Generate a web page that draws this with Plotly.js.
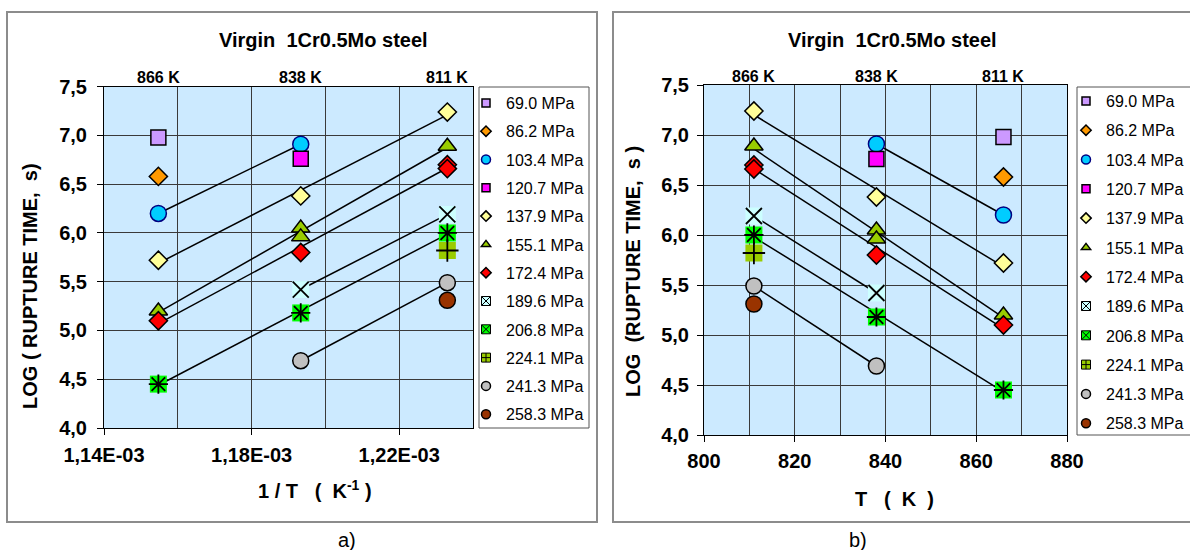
<!DOCTYPE html>
<html>
<head>
<meta charset="utf-8">
<script src="https://cdn.plot.ly/plotly-3.0.1.min.js"></script>
<style>
html,body{margin:0;padding:0;background:#ffffff;}
#chart{width:1190px;height:550px;}
</style>
</head>
<body>
<div id="chart"></div>
<script>
// ---------------- DATA ----------------
const stressLabels = ['69.0 MPa','86.2 MPa','103.4 MPa','120.7 MPa','137.9 MPa','155.1 MPa',
                      '172.4 MPa','189.6 MPa','206.8 MPa','224.1 MPa','241.3 MPa','258.3 MPa'];
const temps = [866, 838, 811];
const tempLabels = ['866 K', '838 K', '811 K'];

// test temperature (K) and log(rupture time, s) for every stress level
const T_69  = [866];                 const L_69  = [6.98];
const T_86  = [866];                 const L_86  = [6.58];
const T_103 = [866, 838];            const L_103 = [6.20, 6.91];
const T_120 = [838];                 const L_120 = [6.76];
const T_137 = [866, 838, 811];       const L_137 = [5.72, 6.38, 7.24];
const T_155 = [866, 838, 838, 811];  const L_155 = [5.20, 6.05, 5.96, 6.89];
const T_172 = [866, 838, 811, 811];  const L_172 = [5.10, 5.80, 6.70, 6.66];
const T_189 = [838, 811];            const L_189 = [5.42, 6.19];
const T_206 = [866, 838, 811];       const L_206 = [4.45, 5.18, 6.00];
const T_224 = [811];                 const L_224 = [5.82];
const T_241 = [838, 811];            const L_241 = [4.69, 5.49];
const T_258 = [811];                 const L_258 = [5.31];

const xTickValsA = [0.00114, 0.00118, 0.00122];
const xTickTextA = ['1,14E-03', '1,18E-03', '1,22E-03'];

// ---------------- STYLES ----------------
const seriesT = [T_69, T_86, T_103, T_120, T_137, T_155, T_172, T_189, T_206, T_224, T_241, T_258];
const seriesL = [L_69, L_86, L_103, L_120, L_137, L_155, L_172, L_189, L_206, L_224, L_241, L_258];

const styles = [
  {kind:'plain', symbol:'square',      color:'#cc99ff', line:'#000000', size:15},
  {kind:'plain', symbol:'diamond',     color:'#ff9900', line:'#000000', size:14},
  {kind:'plain', symbol:'circle',      color:'#00ccff', line:'#000080', size:16},
  {kind:'plain', symbol:'square',      color:'#ff00ff', line:'#000000', size:15},
  {kind:'plain', symbol:'diamond',     color:'#ffff99', line:'#000000', size:14},
  {kind:'plain', symbol:'triangle-up', color:'#99cc00', line:'#000000', size:16},
  {kind:'plain', symbol:'diamond',     color:'#ff0000', line:'#000000', size:14},
  {kind:'bg', symbol:'x-thin-open',     bg:'#ccffff', legendSymbol:'square-x',     size:16},
  {kind:'bg', symbol:'asterisk-open',   bg:'#00ff00', legendSymbol:'square-x',     size:16},
  {kind:'bg', symbol:'cross-thin-open', bg:'#99cc00', legendSymbol:'square-cross', size:16},
  {kind:'plain', symbol:'circle',      color:'#c0c0c0', line:'#000000', size:16},
  {kind:'plain', symbol:'circle',      color:'#993300', line:'#000000', size:16}
];

function fitLine(xs, ys) {
  const uniq = Array.from(new Set(xs));
  if (uniq.length < 2) return null;
  const n = xs.length;
  const mx = xs.reduce((a,b)=>a+b,0)/n, my = ys.reduce((a,b)=>a+b,0)/n;
  let sxy = 0, sxx = 0;
  for (let i=0;i<n;i++){ sxy += (xs[i]-mx)*(ys[i]-my); sxx += (xs[i]-mx)*(xs[i]-mx); }
  const k = sxy/sxx;
  const x0 = Math.min(...xs), x1 = Math.max(...xs);
  return {x:[x0,x1], y:[my + k*(x0-mx), my + k*(x1-mx)]};
}

const traces = [];
function addPanel(xf, xa, ya) {
  // trend lines first
  seriesT.forEach((T, i) => {
    const xs = T.map(xf);
    const f = fitLine(xs, seriesL[i]);
    if (f) traces.push({type:'scatter', mode:'lines', x:f.x, y:f.y, xaxis:xa, yaxis:ya,
      line:{color:'#000000', width:1.5}, showlegend:false, hoverinfo:'skip'});
  });
  seriesT.forEach((T, i) => {
    const s = styles[i];
    const xs = T.map(xf);
    if (s.kind === 'plain') {
      traces.push({type:'scatter', mode:'markers', x:xs, y:seriesL[i], xaxis:xa, yaxis:ya,
        name:stressLabels[i], showlegend:false,
        marker:{symbol:s.symbol, size:s.size, color:s.color, line:{color:s.line, width:1.5}}});
    } else {
      traces.push({type:'scatter', mode:'markers', x:xs, y:seriesL[i], xaxis:xa, yaxis:ya,
        showlegend:false, hoverinfo:'skip',
        marker:{symbol:'square', size:17, color:s.bg, line:{width:0}}});
      traces.push({type:'scatter', mode:'markers', x:xs, y:seriesL[i], xaxis:xa, yaxis:ya,
        name:stressLabels[i], showlegend:false,
        marker:{symbol:s.symbol, size:s.size, color:'#000000', line:{color:'#000000', width:1.8}}});
    }
  });
}
addPanel(T => 1/T, 'x', 'y');
addPanel(T => T, 'x2', 'y2');

// legend-only entries (small symbols as in the original)
['legend','legend2'].forEach((lg, li) => {
  stressLabels.forEach((nm, i) => {
    const s = styles[i];
    const m = s.kind === 'plain'
      ? {symbol:s.symbol, size:(s.symbol==='circle'?9:8), color:s.color, line:{color:s.line, width:1.5}}
      : {symbol:s.legendSymbol, size:9, color:s.bg, line:{color:'#000000', width:1}};
    traces.push({type:'scatter', mode:'markers', x:[null], y:[null],
      xaxis: li ? 'x2' : 'x', yaxis: li ? 'y2' : 'y',
      name:nm, legend:lg, legendgroup:lg+i, showlegend:true, marker:m});
  });
});

// ---------------- LAYOUT ----------------
const W = 1190, H = 550;
const px = v => v / W;
const py = v => 1 - v / H;
const GRID = '#3a3a3a';
const FAMILY = 'Liberation Sans, Arial, sans-serif';
const tickFont = {size:20, weight:'bold', color:'#000000', family:FAMILY};

const axBase = {
  ticks:'outside', ticklen:6, tickcolor:'#000000', tickwidth:1,
  showline:true, linecolor:'#000000', linewidth:1, mirror:true,
  showgrid:true, gridcolor:GRID, gridwidth:1, zeroline:false,
  tickfont:tickFont
};

const annotations = [];
function ann(text, x, y, size, bold, extra) {
  annotations.push(Object.assign({text:text, x:x, y:y, xref:'paper', yref:'paper',
    showarrow:false, xanchor:'center', yanchor:'middle',
    font:{size:size, weight: bold ? 'bold' : 'normal', color:'#000000', family:FAMILY}}, extra || {}));
}
ann('Virgin \u00a01Cr0.5Mo steel', px(323), py(40), 20, true);
ann('Virgin \u00a01Cr0.5Mo steel', px(892), py(40), 20, true);
ann('1 / T \u00a0 ( \u00a0K<sup>-1</sup> )', px(315), py(489), 20, true);
ann('T \u00a0 ( \u00a0K \u00a0)', px(894), py(499), 20, true);
ann('LOG ( RUPTURE TIME, \u00a0s)', px(30), py(286), 20, true, {textangle:-90});
ann('LOG \u00a0(RUPTURE TIME, \u00a0s )', px(633), py(272), 20, true, {textangle:-90});
ann('a)', px(347), py(540), 20, false);
ann('b)', px(858), py(540), 20, false);
// temperature labels above the plot areas
temps.forEach((T, i) => {
  const f = {size:16, weight:'bold', color:'#000000', family:FAMILY};
  annotations.push({text:tempLabels[i], x:1/T, y:py(77), xref:'x', yref:'paper', showarrow:false,
    xanchor:'center', yanchor:'middle', font:f});
  annotations.push({text:tempLabels[i], x:temps[temps.length-1-i], y:py(76), xref:'x2', yref:'paper', showarrow:false,
    xanchor:'center', yanchor:'middle', font:f});
});

const shapes = [
  {type:'rect', xref:'paper', yref:'paper', x0:px(7), x1:px(597), y0:py(522), y1:py(12),
   line:{color:'#8c8c8c', width:2}},
  {type:'rect', xref:'paper', yref:'paper', x0:px(613), x1:1.01, y0:py(522), y1:py(12),
   line:{color:'#8c8c8c', width:2}},
  {type:'rect', xref:'paper', yref:'paper', x0:px(479), x1:px(589), y0:py(428), y1:py(87),
   line:{color:'#555555', width:1}},
  {type:'rect', xref:'paper', yref:'paper', x0:px(1077), x1:1.01, y0:py(435), y1:py(87),
   line:{color:'#555555', width:1}}
];

const legendBase = {xanchor:'left', yanchor:'top', bgcolor:'rgba(0,0,0,0)', borderwidth:0,
  font:{size:16, color:'#000000', family:FAMILY},
  itemsizing:'trace', traceorder:'grouped'};

const layout = {
  width:W, height:H, margin:{l:0, r:0, t:0, b:0},
  paper_bgcolor:'#ffffff', plot_bgcolor:'#cceaff',
  separators:', ',
  font:{family:FAMILY, color:'#000000'},
  showlegend:true,
  xaxis: Object.assign({}, axBase, {domain:[px(104), px(473)], range:[0.00114, 0.00124],
    tickmode:'array', tickvals:xTickValsA, ticktext:xTickTextA, ticklabelstandoff:3,
    minor:{tickmode:'linear', tick0:0.00114, dtick:0.00002, showgrid:true, gridcolor:GRID, gridwidth:1, ticks:''},
    anchor:'y'}),
  yaxis: Object.assign({}, axBase, {domain:[py(428), py(86.7)], range:[4, 7.5],
    tick0:4, dtick:0.5, tickformat:'.1f', ticklabelstandoff:6, anchor:'x'}),
  xaxis2: Object.assign({}, axBase, {domain:[px(704), px(1067)], range:[800, 880],
    tick0:800, dtick:20, ticklabelstandoff:2,
    minor:{tickmode:'linear', tick0:800, dtick:10, showgrid:true, gridcolor:GRID, gridwidth:1, ticks:''},
    anchor:'y2'}),
  yaxis2: Object.assign({}, axBase, {domain:[py(435), py(85)], range:[4, 7.5],
    tick0:4, dtick:0.5, tickformat:'.1f', ticklabelstandoff:4, anchor:'x2'}),
  legend: Object.assign({}, legendBase, {x:px(466), y:py(86), tracegroupgap:4.5}),
  legend2: Object.assign({}, legendBase, {x:px(1066), y:py(84), tracegroupgap:5.5}),
  annotations: annotations,
  shapes: shapes
};

Plotly.newPlot('chart', traces, layout, {displayModeBar:false, staticPlot:true});
</script>
</body>
</html>
